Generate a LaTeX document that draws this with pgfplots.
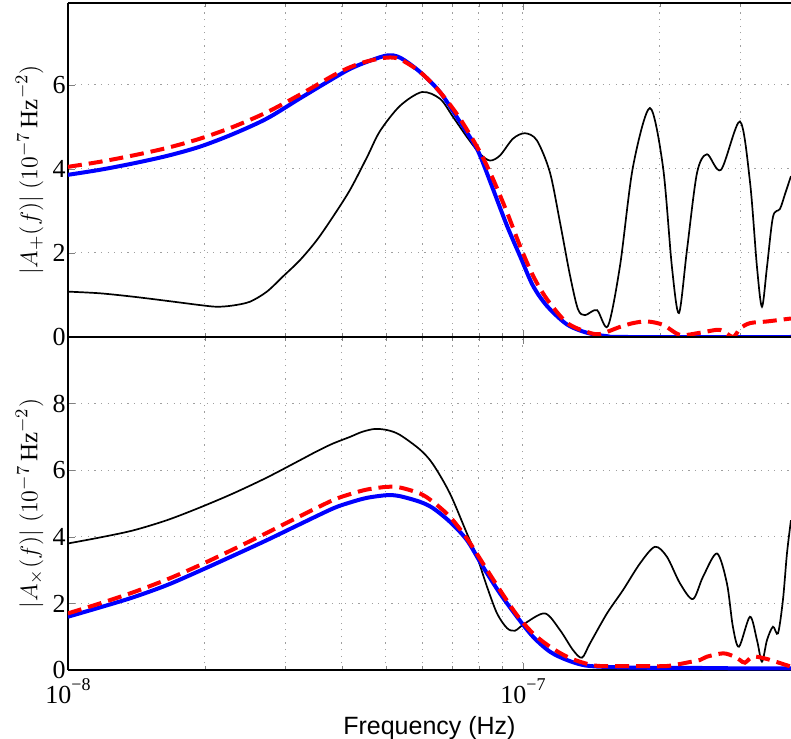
\documentclass[border=0pt]{standalone}
\usepackage{fontspec}
\setmainfont{Liberation Serif}
\newfontfamily\helv{Liberation Sans}
\usepackage{pgfplots}
\usepackage{pgfplotstable}
\pgfplotsset{compat=1.18}

\newcommand{\tenexp}[1]{10\raisebox{0.5em}{\fontsize{9}{10}\selectfont −#1}}

% top panel, |A_+|
\pgfplotstableread{
f v
1.000e-8 1.08
1.176e-8 1.04
1.389e-8 0.96
1.651e-8 0.86
1.950e-8 0.76
2.126e-8 0.72
2.305e-8 0.75
2.512e-8 0.84
2.737e-8 1.08
2.968e-8 1.44
3.236e-8 1.83
3.526e-8 2.31
3.822e-8 2.86
4.167e-8 3.5
4.542e-8 4.28
4.850e-8 4.9
5.366e-8 5.5
5.998e-8 5.83
6.571e-8 5.67
7.018e-8 5.24
7.532e-8 4.76
8.047e-8 4.36
8.462e-8 4.2
8.902e-8 4.32
9.506e-8 4.72
1.010e-7 4.85
1.073e-7 4.68
1.146e-7 3.92
1.206e-7 2.73
1.269e-7 1.46
1.321e-7 0.66
1.369e-7 0.52
1.454e-7 0.64
1.537e-7 0.26
1.634e-7 1.69
1.745e-7 4.05
1.901e-7 5.45
2.031e-7 4.05
2.125e-7 1.67
2.202e-7 0.57
2.293e-7 2.07
2.412e-7 3.9
2.537e-7 4.35
2.724e-7 3.98
2.998e-7 5.13
3.154e-7 3.7
3.268e-7 1.67
3.352e-7 0.72
3.438e-7 1.67
3.544e-7 2.86
3.672e-7 3.05
3.766e-7 3.4
3.882e-7 3.83
}\topblack

\pgfplotstableread{
f v
1.000e-8 3.86
1.176e-8 3.98
1.389e-8 4.13
1.651e-8 4.31
1.950e-8 4.53
2.305e-8 4.83
2.737e-8 5.2
3.236e-8 5.68
3.822e-8 6.15
4.167e-8 6.38
4.542e-8 6.55
5.024e-8 6.7
5.366e-8 6.65
5.938e-8 6.31
6.571e-8 5.83
7.270e-8 5.12
7.767e-8 4.64
8.047e-8 4.32
8.594e-8 3.52
9.222e-8 2.65
9.849e-8 1.93
1.052e-7 1.22
1.129e-7 0.74
1.249e-7 0.3
1.383e-7 0.1
1.530e-7 0.02
1.700e-7 0.0
3.882e-7 0.0
}\topblue

\pgfplotstableread{
f v
1.000e-8 4.05
1.176e-8 4.17
1.389e-8 4.32
1.651e-8 4.5
1.950e-8 4.72
2.305e-8 5.0
2.737e-8 5.35
3.236e-8 5.77
3.822e-8 6.22
4.167e-8 6.42
4.542e-8 6.56
5.024e-8 6.65
5.366e-8 6.61
5.938e-8 6.31
6.571e-8 5.83
7.270e-8 5.2
8.047e-8 4.4
8.594e-8 3.76
9.222e-8 2.97
9.849e-8 2.17
1.052e-7 1.46
1.129e-7 0.9
1.249e-7 0.34
1.383e-7 0.12
1.476e-7 0.07
1.634e-7 0.24
1.745e-7 0.33
1.873e-7 0.37
2.031e-7 0.29
2.214e-7 0.05
2.449e-7 0.1
2.710e-7 0.17
2.893e-7 0.0
2.998e-7 0.2
3.154e-7 0.33
3.438e-7 0.37
3.882e-7 0.44
}\topred

% bottom panel, |A_x|
\pgfplotstableread{
f v
1.000e-8 3.8
1.176e-8 3.98
1.389e-8 4.19
1.651e-8 4.5
1.950e-8 4.88
2.305e-8 5.3
2.737e-8 5.78
3.236e-8 6.3
3.526e-8 6.57
3.822e-8 6.8
4.167e-8 7.0
4.428e-8 7.15
4.729e-8 7.24
5.049e-8 7.2
5.366e-8 7.06
5.938e-8 6.62
6.343e-8 6.18
6.911e-8 5.3
7.532e-8 4.1
7.926e-8 3.4
8.337e-8 2.5
8.770e-8 1.7
9.222e-8 1.26
9.603e-8 1.18
1.010e-7 1.4
1.118e-7 1.7
1.206e-7 1.2
1.288e-7 0.6
1.348e-7 0.37
1.404e-7 0.8
1.530e-7 1.7
1.659e-7 2.4
1.808e-7 3.2
1.950e-7 3.7
2.072e-7 3.4
2.214e-7 2.6
2.363e-7 2.13
2.487e-7 2.8
2.669e-7 3.5
2.807e-7 2.6
2.893e-7 1.3
2.984e-7 0.7
3.154e-7 1.6
3.268e-7 0.9
3.352e-7 0.25
3.438e-7 0.9
3.544e-7 1.3
3.635e-7 1.1
3.727e-7 2.1
3.804e-7 3.5
3.882e-7 4.5
}\botblack

\pgfplotstableread{
f v
1.000e-8 1.6
1.176e-8 1.88
1.389e-8 2.18
1.651e-8 2.55
1.950e-8 2.98
2.305e-8 3.43
2.737e-8 3.9
3.236e-8 4.38
3.822e-8 4.85
4.167e-8 5.03
4.542e-8 5.17
5.024e-8 5.25
5.366e-8 5.22
5.938e-8 5.05
6.343e-8 4.86
6.911e-8 4.45
7.532e-8 3.9
8.167e-8 3.1
8.902e-8 2.3
9.700e-8 1.6
1.052e-7 1.0
1.146e-7 0.55
1.249e-7 0.3
1.355e-7 0.15
1.476e-7 0.1
1.800e-7 0.07
2.500e-7 0.06
3.000e-7 0.05
3.882e-7 0.05
}\botblue

\pgfplotstableread{
f v
1.000e-8 1.7
1.176e-8 2.0
1.389e-8 2.33
1.651e-8 2.72
1.950e-8 3.15
2.305e-8 3.62
2.737e-8 4.12
3.236e-8 4.62
3.822e-8 5.1
4.167e-8 5.28
4.542e-8 5.42
5.024e-8 5.5
5.366e-8 5.48
5.938e-8 5.3
6.343e-8 5.05
6.911e-8 4.6
7.532e-8 3.95
8.167e-8 3.2
8.902e-8 2.4
9.700e-8 1.65
1.052e-7 1.1
1.146e-7 0.7
1.249e-7 0.4
1.355e-7 0.22
1.476e-7 0.12
1.808e-7 0.12
2.072e-7 0.12
2.328e-7 0.24
2.449e-7 0.3
2.537e-7 0.4
2.752e-7 0.5
2.893e-7 0.42
2.998e-7 0.3
3.075e-7 0.22
3.203e-7 0.4
3.438e-7 0.33
3.882e-7 0.1
}\botred

\begin{document}
\begin{tikzpicture}
\begin{axis}[name=upper,
  width=361.5pt, height=167pt, scale only axis,
  xmode=log, xmin=1e-8, xmax=3.882e-7,
  ymin=0, ymax=7.95, ytick={0,2,4,6},
  axis y line*=left,
  axis line style={line width=0.7pt},
  major tick length=3.5pt, minor tick length=2pt,
  xmajorgrids, xminorgrids, ymajorgrids,
  grid style={gray!75, line width=0.5pt, dash pattern=on 0.6pt off 2.7pt},
  minor grid style={gray!75, line width=0.5pt, dash pattern=on 0.6pt off 2.7pt},
  /pgf/number format/assume math mode=true,
  tick label style={font=\fontsize{13}{14}\selectfont},
  yticklabel style={inner xsep=1pt},
  ylabel style={font=\fontsize{12.5}{14}\selectfont},
  xticklabels={},
  ylabel={$|A_+(f)|\;(10^{-7}\,\mathrm{Hz}^{-2})$},
]
\addplot[black, line width=0.85pt, smooth, tension=0.5, mark=none] table[x=f, y=v] {\topblack};
\addplot[blue, line width=2pt, smooth, mark=none] table[x=f, y=v] {\topblue};
\addplot[red, line width=2pt, smooth, mark=none, dash pattern=on 7pt off 3.5pt] table[x=f, y=v] {\topred};
\end{axis}
\begin{axis}[name=lower,
  at={(upper.south west)}, anchor=north west,
  width=361.5pt, height=166.5pt, scale only axis,
  xmode=log, xmin=1e-8, xmax=3.882e-7,
  ymin=0, ymax=10, ytick={0,2,4,6,8},
  axis y line*=left,
  axis line style={line width=0.7pt},
  major tick length=3.5pt, minor tick length=2pt,
  xmajorgrids, xminorgrids, ymajorgrids,
  grid style={gray!75, line width=0.5pt, dash pattern=on 0.6pt off 2.7pt},
  minor grid style={gray!75, line width=0.5pt, dash pattern=on 0.6pt off 2.7pt},
  /pgf/number format/assume math mode=true,
  tick label style={font=\fontsize{13}{14}\selectfont},
  yticklabel style={inner xsep=1pt},
  xticklabel style={inner ysep=2pt, yshift=-2pt},
  ylabel style={font=\fontsize{12.5}{14}\selectfont},
  xtick={1e-8,1e-7},
  xticklabels={\tenexp{8}, \tenexp{7}},
  xlabel={Frequency (Hz)},
  xlabel style={font=\helv\fontsize{12.5}{14}\selectfont, yshift=-1pt},
  ylabel={$|A_\times(f)|\;(10^{-7}\,\mathrm{Hz}^{-2})$},
]
\addplot[black, line width=0.85pt, smooth, tension=0.5, mark=none] table[x=f, y=v] {\botblack};
\addplot[blue, line width=2pt, smooth, mark=none] table[x=f, y=v] {\botblue};
\addplot[red, line width=2pt, smooth, mark=none, dash pattern=on 7pt off 3.5pt] table[x=f, y=v] {\botred};
\end{axis}
\pgfresetboundingbox
\path[use as bounding box] ([xshift=-34pt,yshift=1.5pt]upper.north west) rectangle ([yshift=-34pt]lower.south east);
\end{tikzpicture}
\end{document}
